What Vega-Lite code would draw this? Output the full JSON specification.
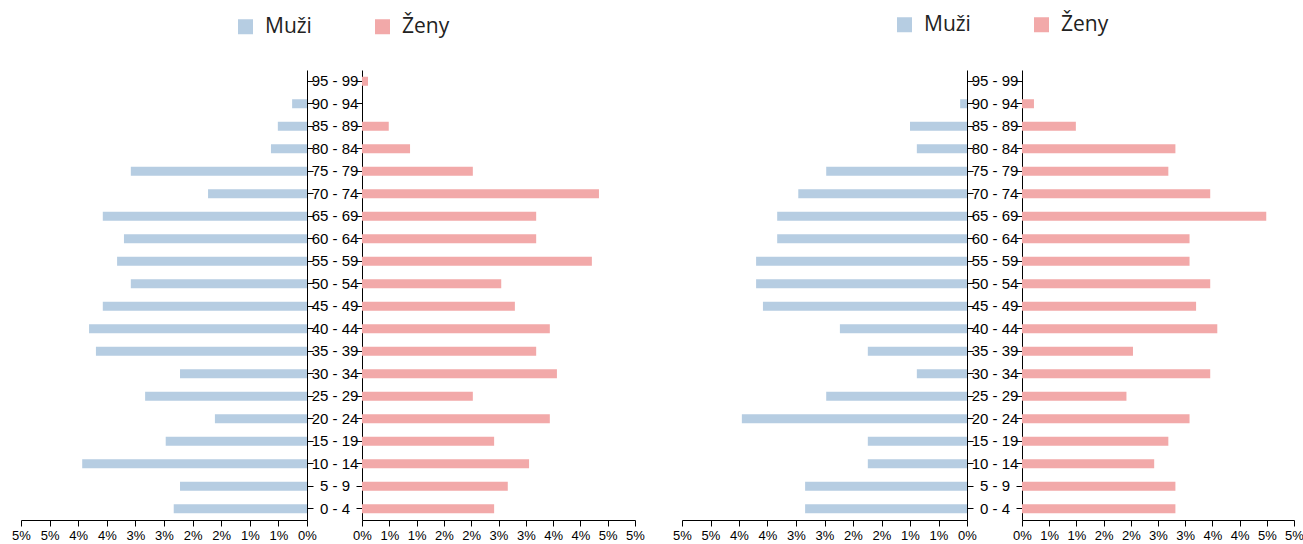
{
  "$schema": "https://vega.github.io/schema/vega-lite/v6.json",
  "padding": {"left": 11, "right": 0, "top": 14, "bottom": 0},
  "config": {
    "view": {"stroke": null},
    "axis": {"domainColor": "#000", "tickColor": "#000", "labelColor": "#000", "labelFont": "Liberation Sans", "grid": false}
  },
  "datasets": {
    "a": [
      {"age": "95 - 99", "sex": "Muži", "pct": 0}, {"age": "90 - 94", "sex": "Muži", "pct": 0.0026}, {"age": "85 - 89", "sex": "Muži", "pct": 0.0051}, {"age": "80 - 84", "sex": "Muži", "pct": 0.0063},
      {"age": "75 - 79", "sex": "Muži", "pct": 0.0308}, {"age": "70 - 74", "sex": "Muži", "pct": 0.0173}, {"age": "65 - 69", "sex": "Muži", "pct": 0.0357}, {"age": "60 - 64", "sex": "Muži", "pct": 0.032},
      {"age": "55 - 59", "sex": "Muži", "pct": 0.0332}, {"age": "50 - 54", "sex": "Muži", "pct": 0.0308}, {"age": "45 - 49", "sex": "Muži", "pct": 0.0357}, {"age": "40 - 44", "sex": "Muži", "pct": 0.0381},
      {"age": "35 - 39", "sex": "Muži", "pct": 0.0369}, {"age": "30 - 34", "sex": "Muži", "pct": 0.0222}, {"age": "25 - 29", "sex": "Muži", "pct": 0.0283}, {"age": "20 - 24", "sex": "Muži", "pct": 0.0161},
      {"age": "15 - 19", "sex": "Muži", "pct": 0.0247}, {"age": "10 - 14", "sex": "Muži", "pct": 0.0393}, {"age": "5 - 9", "sex": "Muži", "pct": 0.0222}, {"age": "0 - 4", "sex": "Muži", "pct": 0.0233},
      {"age": "95 - 99", "sex": "Ženy", "pct": 0.0011}, {"age": "90 - 94", "sex": "Ženy", "pct": 0}, {"age": "85 - 89", "sex": "Ženy", "pct": 0.0049}, {"age": "80 - 84", "sex": "Ženy", "pct": 0.0088},
      {"age": "75 - 79", "sex": "Ženy", "pct": 0.0203}, {"age": "70 - 74", "sex": "Ženy", "pct": 0.0434}, {"age": "65 - 69", "sex": "Ženy", "pct": 0.0319}, {"age": "60 - 64", "sex": "Ženy", "pct": 0.0319},
      {"age": "55 - 59", "sex": "Ženy", "pct": 0.0421}, {"age": "50 - 54", "sex": "Ženy", "pct": 0.0255}, {"age": "45 - 49", "sex": "Ženy", "pct": 0.028}, {"age": "40 - 44", "sex": "Ženy", "pct": 0.0344},
      {"age": "35 - 39", "sex": "Ženy", "pct": 0.0319}, {"age": "30 - 34", "sex": "Ženy", "pct": 0.0357}, {"age": "25 - 29", "sex": "Ženy", "pct": 0.0203}, {"age": "20 - 24", "sex": "Ženy", "pct": 0.0344},
      {"age": "15 - 19", "sex": "Ženy", "pct": 0.0242}, {"age": "10 - 14", "sex": "Ženy", "pct": 0.0306}, {"age": "5 - 9", "sex": "Ženy", "pct": 0.0267}, {"age": "0 - 4", "sex": "Ženy", "pct": 0.0242}
    ],
    "b": [
      {"age": "95 - 99", "sex": "Muži", "pct": 0}, {"age": "90 - 94", "sex": "Muži", "pct": 0.0012}, {"age": "85 - 89", "sex": "Muži", "pct": 0.01}, {"age": "80 - 84", "sex": "Muži", "pct": 0.0088},
      {"age": "75 - 79", "sex": "Muži", "pct": 0.0247}, {"age": "70 - 74", "sex": "Muži", "pct": 0.0296}, {"age": "65 - 69", "sex": "Muži", "pct": 0.0333}, {"age": "60 - 64", "sex": "Muži", "pct": 0.0333},
      {"age": "55 - 59", "sex": "Muži", "pct": 0.037}, {"age": "50 - 54", "sex": "Muži", "pct": 0.037}, {"age": "45 - 49", "sex": "Muži", "pct": 0.0358}, {"age": "40 - 44", "sex": "Muži", "pct": 0.0223},
      {"age": "35 - 39", "sex": "Muži", "pct": 0.0174}, {"age": "30 - 34", "sex": "Muži", "pct": 0.0088}, {"age": "25 - 29", "sex": "Muži", "pct": 0.0247}, {"age": "20 - 24", "sex": "Muži", "pct": 0.0395},
      {"age": "15 - 19", "sex": "Muži", "pct": 0.0174}, {"age": "10 - 14", "sex": "Muži", "pct": 0.0174}, {"age": "5 - 9", "sex": "Muži", "pct": 0.0284}, {"age": "0 - 4", "sex": "Muži", "pct": 0.0284},
      {"age": "95 - 99", "sex": "Ženy", "pct": 0}, {"age": "90 - 94", "sex": "Ženy", "pct": 0.0022}, {"age": "85 - 89", "sex": "Ženy", "pct": 0.0099}, {"age": "80 - 84", "sex": "Ženy", "pct": 0.0282},
      {"age": "75 - 79", "sex": "Ženy", "pct": 0.0269}, {"age": "70 - 74", "sex": "Ženy", "pct": 0.0346}, {"age": "65 - 69", "sex": "Ženy", "pct": 0.0449}, {"age": "60 - 64", "sex": "Ženy", "pct": 0.0308},
      {"age": "55 - 59", "sex": "Ženy", "pct": 0.0308}, {"age": "50 - 54", "sex": "Ženy", "pct": 0.0346}, {"age": "45 - 49", "sex": "Ženy", "pct": 0.032}, {"age": "40 - 44", "sex": "Ženy", "pct": 0.0359},
      {"age": "35 - 39", "sex": "Ženy", "pct": 0.0204}, {"age": "30 - 34", "sex": "Ženy", "pct": 0.0346}, {"age": "25 - 29", "sex": "Ženy", "pct": 0.0192}, {"age": "20 - 24", "sex": "Ženy", "pct": 0.0308},
      {"age": "15 - 19", "sex": "Ženy", "pct": 0.0269}, {"age": "10 - 14", "sex": "Ženy", "pct": 0.0243}, {"age": "5 - 9", "sex": "Ženy", "pct": 0.0282}, {"age": "0 - 4", "sex": "Ženy", "pct": 0.0282}
    ]
  },
  "spacing": 27,
  "resolve": {"scale": {"color": "independent"}, "legend": {"color": "independent"}},
  "hconcat": [
    {
      "spacing": 55,
      "bounds": "flush",
      "resolve": {"scale": {"x": "independent", "y": "independent", "color": "shared"}, "legend": {"color": "shared"}},
      "hconcat": [
        {
          "width": 286, "height": 450,
          "data": {"name": "a"},
          "transform": [{"filter": "datum.sex === 'Muži'"}],
          "mark": {"type": "bar"},
          "encoding": {
            "y": {"field": "age", "type": "nominal", "scale": {"domain": ["95 - 99","90 - 94","85 - 89","80 - 84","75 - 79","70 - 74","65 - 69","60 - 64","55 - 59","50 - 54","45 - 49","40 - 44","35 - 39","30 - 34","25 - 29","20 - 24","15 - 19","10 - 14","5 - 9","0 - 4"], "paddingInner": 0.6, "paddingOuter": 0.3},
              "axis": {"orient": "right", "title": null, "tickSize": 6, "labelAlign": "center", "labelPadding": 21.5, "labelFontSize": 15}},
            "x": {"field": "pct", "type": "quantitative", "scale": {"domain": [0, 0.05], "reverse": true, "nice": false},
              "axis": {"title": null, "values": [0,0.005,0.01,0.015,0.02,0.025,0.03,0.035,0.04,0.045,0.05], "format": ".0%", "tickSize": 6, "labelPadding": 3, "labelFontSize": 13, "labelFlush": false, "labelOverlap": false}},
            "color": {"field": "sex", "type": "nominal", "scale": {"domain": ["Muži", "Ženy"], "range": ["#b6cde2", "#f2a9a9"]},
              "legend": {"orient": "none", "legendX": 214, "legendY": -54, "direction": "horizontal", "title": null, "symbolType": "square", "symbolSize": 225, "symbolStrokeWidth": 0, "labelFont": "Open Sans", "labelFontSize": 21, "labelColor": "#222", "labelOffset": 9, "columnPadding": 60, "padding": 0}}
          }
        },
        {
          "width": 273, "height": 450,
          "data": {"name": "a"},
          "transform": [{"filter": "datum.sex === 'Ženy'"}],
          "mark": {"type": "bar"},
          "encoding": {
            "y": {"field": "age", "type": "nominal", "scale": {"domain": ["95 - 99","90 - 94","85 - 89","80 - 84","75 - 79","70 - 74","65 - 69","60 - 64","55 - 59","50 - 54","45 - 49","40 - 44","35 - 39","30 - 34","25 - 29","20 - 24","15 - 19","10 - 14","5 - 9","0 - 4"], "paddingInner": 0.6, "paddingOuter": 0.3},
              "axis": {"orient": "left", "title": null, "tickSize": 6, "labels": false}},
            "x": {"field": "pct", "type": "quantitative", "scale": {"domain": [0, 0.05], "nice": false},
              "axis": {"title": null, "values": [0,0.005,0.01,0.015,0.02,0.025,0.03,0.035,0.04,0.045,0.05], "format": ".0%", "tickSize": 6, "labelPadding": 3, "labelFontSize": 13, "labelFlush": false, "labelOverlap": false}},
            "color": {"field": "sex", "type": "nominal", "scale": {"domain": ["Muži", "Ženy"], "range": ["#b6cde2", "#f2a9a9"]},
              "legend": {"orient": "none", "legendX": 214, "legendY": -54, "direction": "horizontal", "title": null, "symbolType": "square", "symbolSize": 225, "symbolStrokeWidth": 0, "labelFont": "Open Sans", "labelFontSize": 21, "labelColor": "#222", "labelOffset": 9, "columnPadding": 60, "padding": 0}}
          }
        }
      ]
    },
    {
      "spacing": 55,
      "bounds": "flush",
      "resolve": {"scale": {"x": "independent", "y": "independent", "color": "shared"}, "legend": {"color": "shared"}},
      "hconcat": [
        {
          "width": 285, "height": 450,
          "data": {"name": "b"},
          "transform": [{"filter": "datum.sex === 'Muži'"}],
          "mark": {"type": "bar"},
          "encoding": {
            "y": {"field": "age", "type": "nominal", "scale": {"domain": ["95 - 99","90 - 94","85 - 89","80 - 84","75 - 79","70 - 74","65 - 69","60 - 64","55 - 59","50 - 54","45 - 49","40 - 44","35 - 39","30 - 34","25 - 29","20 - 24","15 - 19","10 - 14","5 - 9","0 - 4"], "paddingInner": 0.6, "paddingOuter": 0.3},
              "axis": {"orient": "right", "title": null, "tickSize": 6, "labelAlign": "center", "labelPadding": 21.5, "labelFontSize": 15}},
            "x": {"field": "pct", "type": "quantitative", "scale": {"domain": [0, 0.05], "reverse": true, "nice": false},
              "axis": {"title": null, "values": [0,0.005,0.01,0.015,0.02,0.025,0.03,0.035,0.04,0.045,0.05], "format": ".0%", "tickSize": 6, "labelPadding": 3, "labelFontSize": 13, "labelFlush": false, "labelOverlap": false}},
            "color": {"field": "sex", "type": "nominal", "scale": {"domain": ["Muži", "Ženy"], "range": ["#b6cde2", "#f2a9a9"]},
              "legend": {"orient": "none", "legendX": 212, "legendY": -56, "direction": "horizontal", "title": null, "symbolType": "square", "symbolSize": 225, "symbolStrokeWidth": 0, "labelFont": "Open Sans", "labelFontSize": 21, "labelColor": "#222", "labelOffset": 9, "columnPadding": 60, "padding": 0}}
          }
        },
        {
          "width": 272, "height": 450,
          "data": {"name": "b"},
          "transform": [{"filter": "datum.sex === 'Ženy'"}],
          "mark": {"type": "bar"},
          "encoding": {
            "y": {"field": "age", "type": "nominal", "scale": {"domain": ["95 - 99","90 - 94","85 - 89","80 - 84","75 - 79","70 - 74","65 - 69","60 - 64","55 - 59","50 - 54","45 - 49","40 - 44","35 - 39","30 - 34","25 - 29","20 - 24","15 - 19","10 - 14","5 - 9","0 - 4"], "paddingInner": 0.6, "paddingOuter": 0.3},
              "axis": {"orient": "left", "title": null, "tickSize": 6, "labels": false}},
            "x": {"field": "pct", "type": "quantitative", "scale": {"domain": [0, 0.05], "nice": false},
              "axis": {"title": null, "values": [0,0.005,0.01,0.015,0.02,0.025,0.03,0.035,0.04,0.045,0.05], "format": ".0%", "tickSize": 6, "labelPadding": 3, "labelFontSize": 13, "labelFlush": false, "labelOverlap": false}},
            "color": {"field": "sex", "type": "nominal", "scale": {"domain": ["Muži", "Ženy"], "range": ["#b6cde2", "#f2a9a9"]},
              "legend": {"orient": "none", "legendX": 212, "legendY": -56, "direction": "horizontal", "title": null, "symbolType": "square", "symbolSize": 225, "symbolStrokeWidth": 0, "labelFont": "Open Sans", "labelFontSize": 21, "labelColor": "#222", "labelOffset": 9, "columnPadding": 60, "padding": 0}}
          }
        }
      ]
    }
  ]
}
